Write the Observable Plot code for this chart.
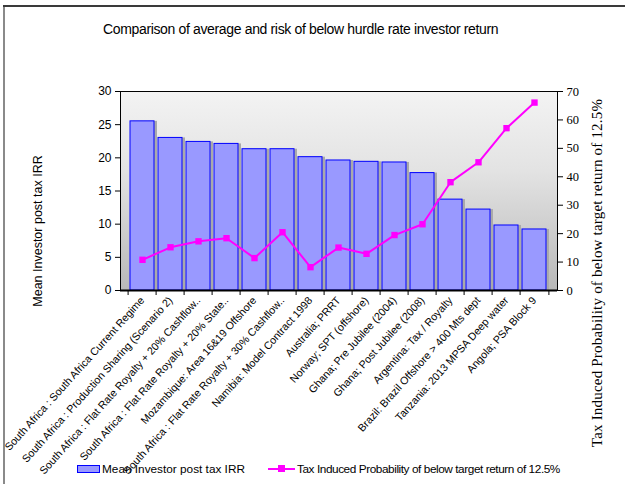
<!DOCTYPE html>
<html><head><meta charset="utf-8">
<script src="https://cdn.jsdelivr.net/npm/d3@7"></script>
<script src="https://cdn.jsdelivr.net/npm/@observablehq/plot@0.6"></script>
<style>
body{margin:0;background:#fff;}
#wrap{position:relative;width:625px;height:484px;overflow:hidden;font-family:"Liberation Sans",Arial,sans-serif;color:#000;}
#chart{position:absolute;left:0;top:0;}
.bl{position:absolute;left:3px;top:5px;width:2px;height:479px;background:#8a8a8a;}
.bt{position:absolute;left:3px;top:5px;width:622px;height:2px;background:#3a3a3a;}
.title{position:absolute;left:103px;top:21px;font-size:14px;letter-spacing:-0.35px;white-space:nowrap;}
.ytl{position:absolute;left:38px;top:231px;transform:translate(-50%,-50%) rotate(-90deg);font-size:12.5px;white-space:nowrap;}
.ytr{position:absolute;left:597px;top:273px;transform:translate(-50%,-50%) rotate(-90deg);font-family:"Liberation Serif","Times New Roman",serif;font-size:15px;letter-spacing:0.2px;white-space:nowrap;}
.leg{position:absolute;top:462px;font-size:11.8px;white-space:nowrap;line-height:14px;}
.sw1{position:absolute;left:77px;top:465px;width:21px;height:6px;background:#9999ff;border:1px solid #0000ff;}
.sw2{position:absolute;left:268px;top:468px;width:27px;height:2px;background:#ff00ff;}
.sw2m{position:absolute;left:278px;top:465px;width:7px;height:7px;background:#ff00ff;}
</style>
</head><body>
<div id="wrap">
  <div id="chart"></div>
  <div class="bl"></div><div class="bt"></div>
  <div class="title">Comparison of average and risk of below hurdle rate investor return</div>
  <div class="ytl">Mean Investor post tax IRR</div>
  <div class="ytr">Tax Induced Probability of below target return of 12.5%</div>
  <div class="sw1"></div><div class="leg" style="left:102px;letter-spacing:0px">Mean Investor post tax IRR</div>
  <div class="sw2"></div><div class="sw2m"></div><div class="leg" style="left:297px;letter-spacing:-0.43px">Tax Induced Probability of below target return of 12.5%</div>
</div>
<script>
const categories = [
  "South Africa : South Africa Current Regime",
  "South Africa : Production Sharing (Scenario 2)",
  "South Africa : Flat Rate Royalty + 20% Cashflow..",
  "South Africa : Flat Rate Royalty + 20% State..",
  "Mozambique: Area 16&19 Offshore",
  "South Africa : Flat Rate Royalty + 30% Cashflow..",
  "Namibia: Model Contract 1998",
  "Australia; PRRT",
  "Norway; SPT (offshore)",
  "Ghana; Pre Jubilee (2004)",
  "Ghana; Post Jubilee (2008)",
  "Argentina: Tax / Royalty",
  "Brazil: Brazil Offshore > 400 Mts dept",
  "Tanzania: 2013 MPSA Deep water",
  "Angola; PSA Block 9"
];
const irr = [25.5, 23.0, 22.4, 22.1, 21.3, 21.3, 20.1, 19.6, 19.4, 19.3, 17.7, 13.7, 12.2, 9.8, 9.2];
const risk = [10.8, 15.2, 17.3, 18.4, 11.4, 20.5, 8.2, 15.1, 12.9, 19.5, 23.3, 38.1, 45.1, 57.1, 66.1];
const leftTicks = [0, 5, 10, 15, 20, 25, 30];
const rightTicks = [0, 10, 20, 30, 40, 50, 60, 70];

const data = categories.map((c, i) => ({cat: c, irr: irr[i], risk: risk[i]}));
const k = 30 / 70;

const bg = (index, scales, values, dims) => {
  const g = d3.create("svg:g");
  const grad = g.append("defs").append("linearGradient").attr("id", "bggrad")
    .attr("x1", 0).attr("y1", 0).attr("x2", 0).attr("y2", 1);
  grad.append("stop").attr("offset", "0%").attr("stop-color", "#f3f3f3");
  grad.append("stop").attr("offset", "40%").attr("stop-color", "#e3e3e3");
  grad.append("stop").attr("offset", "100%").attr("stop-color", "#b8b8b8");
  g.append("rect")
    .attr("x", dims.marginLeft).attr("y", dims.marginTop)
    .attr("width", dims.width - dims.marginLeft - dims.marginRight)
    .attr("height", dims.height - dims.marginTop - dims.marginBottom)
    .attr("fill", "url(#bggrad)");
  return g.node();
};

const plot = Plot.plot({
  width: 625, height: 484,
  marginLeft: 120, marginRight: 68, marginTop: 91, marginBottom: 194,
  style: {background: "transparent", fontFamily: "Liberation Sans, Arial, sans-serif", overflow: "visible", color: "#000"},
  x: {domain: categories, padding: 0.14},
  y: {domain: [0, 30]},
  marks: [
    bg,
    Plot.barY(data, {x: "cat", y: "irr", fill: "#aaaaaa", dx: 3}),
    Plot.barY(data, {x: "cat", y: "irr", fill: "#9999ff", stroke: "#0000ff", strokeWidth: 1}),
    Plot.line(data, {x: "cat", y: d => d.risk * k, stroke: "#ff00ff", strokeWidth: 2}),
    Plot.dot(data, {x: "cat", y: d => d.risk * k, symbol: "square", r: 3.6, fill: "#ff00ff"}),
    Plot.frame({stroke: "#000"}),
    Plot.ruleY([0], {stroke: "#000", strokeWidth: 2}),
    Plot.axisY({ticks: leftTicks, tickSize: 5, tickPadding: 4, fontSize: 12, label: null}),
    Plot.axisY({anchor: "right", ticks: rightTicks.map(v => v * k), tickFormat: d => Math.round(d / k),
      tickSize: 5, tickPadding: 4, fontSize: 12.5, fontFamily: "Liberation Serif, Times New Roman, serif", label: null}),
    Plot.axisX({tickSize: 0, tickPadding: 8, tickRotate: -48, fontSize: 10.7, label: null}),
    Plot.ruleX(categories, {x: d => d, y1: 0, y2: 0, insetBottom: -5, dx: -14.4, stroke: "#000"}),
    Plot.ruleX(categories.slice(-1), {x: d => d, y1: 0, y2: 0, insetBottom: -5, dx: 14.4, stroke: "#000"})
  ]
});
document.getElementById("chart").appendChild(plot);
</script>
</body></html>
